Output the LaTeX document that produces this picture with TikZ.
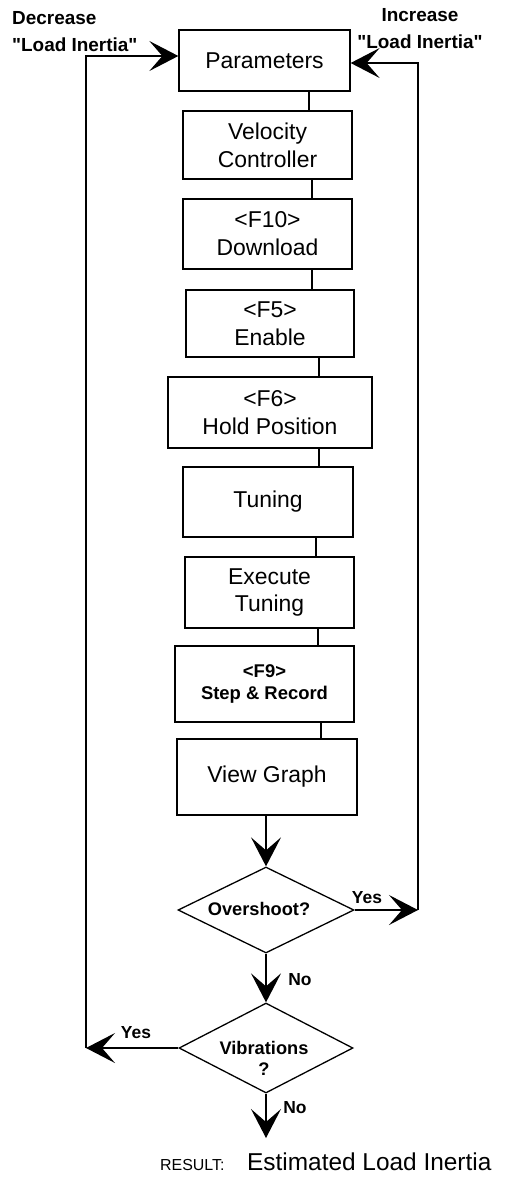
\documentclass[tikz,border=0pt]{standalone}
\usepackage{fontspec}
\setmainfont{Liberation Sans}
\newfontfamily\plainfont{Liberation Sans}
\usetikzlibrary{arrows.meta,shapes.geometric}
\newcommand{\dq}{{\plainfont\bfseries\symbol{34}}}
\begin{document}
\begin{tikzpicture}[x=1bp,y=-1bp,
  box/.style={draw, line width=1.3bp, rectangle, inner sep=0pt, align=center,
              font=\fontsize{23}{28}\selectfont},
  smallbox/.style={box, font=\bfseries\fontsize{18.5}{23}\selectfont},
  dia/.style={draw, line width=1.3bp, diamond, inner sep=0pt},
  conn/.style={line width=1.3bp},
  arr/.style={line width=1.3bp, -{Stealth[length=29bp,width=30bp,inset=13bp]}},
  txt/.style={inner sep=0pt, align=center, font=\bfseries\fontsize{18.3}{21}\selectfont},
  yn/.style={inner sep=0pt, font=\bfseries\fontsize{17.5}{21}\selectfont},
  side/.style={inner sep=0pt, font=\bfseries\fontsize{19}{27}\selectfont}]

\useasboundingbox (0,0) rectangle (505,1182);

% boxes
\node[box, minimum width=171bp, minimum height=61bp] (p) at (264.5,60.5) {Parameters};
\node[box, minimum width=169bp, minimum height=68bp] (v) at (267.5,145) {Velocity\\Controller};
\node[box, minimum width=169bp, minimum height=70bp] (d) at (267.5,234) {<F10>\\Download};
\node[box, minimum width=168bp, minimum height=67bp] (e) at (270,323.5) {<F5>\\Enable};
\node[box, minimum width=204bp, minimum height=71bp] (h) at (270,412.5) {<F6>\\Hold Position};
\node[box, minimum width=170bp, minimum height=70bp] (t) at (268,502) {Tuning};
\node[box, minimum width=169bp, minimum height=71bp] (x) at (269.5,592.5) {Execute\\Tuning};
\node[smallbox, minimum width=179bp, minimum height=76bp] (s) at (264.5,684) {<F9>\\Step \& Record};
\node[box, minimum width=180bp, minimum height=76bp] (g) at (267,777) {View Graph};

% decisions
\node[dia, minimum width=176bp, minimum height=86bp] (o) at (266,910) {};
\node[txt] (ot) at (259,909) {Overshoot?};
\node[dia, minimum width=174bp, minimum height=90bp] (vib) at (266,1048) {};
\node[txt] (vt) at (264,1058) {Vibrations\\?};

% coordinates
\coordinate (k1) at (309,0);
\coordinate (k2) at (312,0);
\coordinate (k3) at (312,0);
\coordinate (k4) at (319,0);
\coordinate (k5) at (319,0);
\coordinate (k6) at (316,0);
\coordinate (k7) at (318,0);
\coordinate (k8) at (321,0);
\coordinate (BR) at (418,910);
\coordinate (TR) at (418,63);
\coordinate (BL) at (86,1048);
\coordinate (TL) at (86,56);
\coordinate (end) at (266,1138);

% vertical connectors
\draw[conn] (p.south -| k1) -- (v.north -| k1);
\draw[conn] (v.south -| k2) -- (d.north -| k2);
\draw[conn] (d.south -| k3) -- (e.north -| k3);
\draw[conn] (e.south -| k4) -- (h.north -| k4);
\draw[conn] (h.south -| k5) -- (t.north -| k5);
\draw[conn] (t.south -| k6) -- (x.north -| k6);
\draw[conn] (x.south -| k7) -- (s.north -| k7);
\draw[conn] (s.south -| k8) -- (g.north -| k8);

% arrows
\draw[arr] (g.south -| o.north) -- (o.north);
\draw[arr] (o.south) -- (vib.north);
\draw[arr] (vib.south) -- (end);
\draw[arr] (o.east) -- (BR);
\draw[arr] (BR) -- (TR) -- (TR -| p.east);
\draw[arr] (vib.west) -- (BL);
\draw[arr] (BL) -- (TL) -- (TL -| p.west);

% labels
\node[yn] (y1) at (367,898) {Yes};
\node[yn] (n1) at (300,980) {No};
\node[yn] (y2) at (136,1033) {Yes};
\node[yn] (n2) at (295,1108) {No};

\node[side, anchor=west, align=left] (dec) at (12,31.5) {Decrease\\\dq Load Inertia\dq};
\node[side, align=center] (inc) at (420,29) {Increase\\\dq Load Inertia\dq};

\node[inner sep=0pt, anchor=base west, font=\fontsize{16}{19}\selectfont] (res) at (160,1170) {RESULT:};
\node[inner sep=0pt, anchor=base west, font=\fontsize{24.5}{29}\selectfont] (est) at (247,1170) {Estimated Load Inertia};
\end{tikzpicture}
\end{document}
